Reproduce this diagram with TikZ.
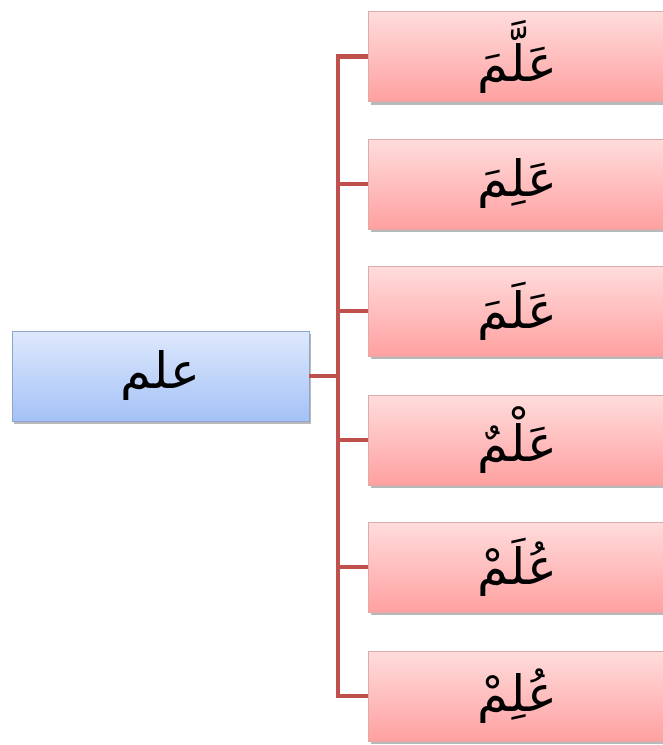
\documentclass[tikz,border=0pt]{standalone}
\usepackage{fontspec}
\usetikzlibrary{shadows}
\TeXXeTstate=1
\newfontfamily\arabicfont[Script=Arabic]{DejaVu Sans}
\definecolor{linkred}{RGB}{192,80,77}
\definecolor{bluetop}{RGB}{222,232,252}
\definecolor{bluebot}{RGB}{164,194,246}
\definecolor{blueedge}{RGB}{140,165,205}
\definecolor{redtop}{RGB}{255,220,220}
\definecolor{redbot}{RGB}{255,160,160}
\definecolor{rededge}{RGB}{225,170,170}
\tikzset{
  box/.style={rectangle, minimum width=297pt, minimum height=90pt, inner sep=0pt,
    line width=0.6pt, font=\arabicfont\fontsize{50}{60}\selectfont,
    drop shadow={shadow xshift=2pt, shadow yshift=-3pt, opacity=0.5, fill=black!55}},
  rootbox/.style={box, draw=blueedge, top color=bluetop, bottom color=bluebot},
  leafbox/.style={box, draw=rededge, top color=redtop, bottom color=redbot},
  link/.style={draw=linkred, line width=4.5pt}
}
\begin{document}
\begin{tikzpicture}[x=1pt, y=-1pt]
  \useasboundingbox (0,0) rectangle (663,745);
  \clip (0,0) rectangle (663,745);
  % root word
  \node[rootbox] (root) at (160.5,376) {\beginR علم\endR};
  % vocalised readings
  \node[leafbox] (w1) at (517,56.5) {\beginR عَلَّمَ\endR};
  \node[leafbox] (w2) at (517,184) {\beginR عَلِمَ\endR};
  \node[leafbox] (w3) at (517,311) {\beginR عَلَمَ\endR};
  \node[leafbox] (w4) at (517,440) {\beginR عَلْمٌ\endR};
  \node[leafbox] (w5) at (517,567) {\beginR عُلَمْ\endR};
  \node[leafbox] (w6) at (517,696) {\beginR عُلِمْ\endR};
  % bracket connectors
  \coordinate (hub) at (338,376);
  \coordinate (top) at (338,56.5);
  \coordinate (bot) at (338,696);
  \draw[link] (root.east) -- (hub);
  \draw[link, line cap=rect] (top) -- (bot);
  \foreach \n in {w1,w2,w3,w4,w5,w6}
    \draw[link] (\n.west -| hub) -- (\n.west);
\end{tikzpicture}
\end{document}
